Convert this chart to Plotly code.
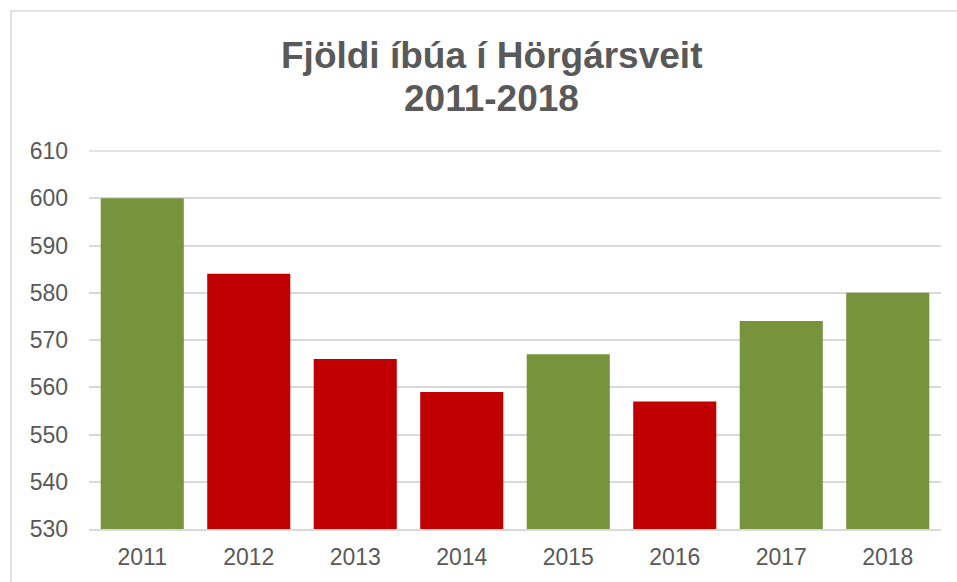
import plotly.graph_objects as go

years = ["2011", "2012", "2013", "2014", "2015", "2016", "2017", "2018"]
residents = [600, 584, 566, 559, 567, 557, 574, 580]
bar_colors = ["#77933C", "#C00000", "#C00000", "#C00000", "#77933C", "#C00000", "#77933C", "#77933C"]
y_ticks = [530, 540, 550, 560, 570, 580, 590, 600, 610]
title_lines = ["Fjöldi íbúa í Hörgársveit", "2011-2018"]

fig = go.Figure(go.Bar(x=years, y=residents, marker_color=bar_colors, marker_line_width=0))

W, H = 957, 582
L, R, T, B = 89, 16, 151, 53
pw, ph = W - L - R, H - T - B

title_ann = [
    dict(text="<b>%s</b>" % t, xref="paper", yref="paper",
         x=(491 - L) / pw, y=((H - B) - yc) / ph, xanchor="center", yanchor="middle",
         showarrow=False, font=dict(size=37, color="#595959", family="Liberation Sans, Arial"))
    for t, yc in zip(title_lines, [56, 98])
]

fig.update_layout(
    width=W, height=H,
    margin=dict(l=L, r=R, t=T, b=B, autoexpand=False),
    paper_bgcolor="white", plot_bgcolor="white",
    bargap=0.22,
    showlegend=False,
    font=dict(family="Liberation Sans, Arial", color="#595959"),
    annotations=title_ann,
    xaxis=dict(
        showgrid=False, showline=True, linecolor="#D9D9D9", linewidth=1.5, automargin=False,
        tickfont=dict(size=23, color="#595959"), ticks="", ticklabelstandoff=7,
    ),
    yaxis=dict(
        range=[y_ticks[0], y_ticks[-1]], tickvals=y_ticks, showgrid=True, gridcolor="#D9D9D9",
        gridwidth=1.5, zeroline=False, showline=False, automargin=False,
        tickfont=dict(size=23, color="#595959"), ticks="", ticklabelstandoff=20,
    ),
    shapes=[
        dict(type="rect", xref="paper", yref="paper",
             x0=(11 - L) / pw, x1=(990 - L) / pw,
             y0=-(620 - (H - B)) / ph, y1=((H - B) - 11) / ph,
             line=dict(color="#D9D9D9", width=1.5), fillcolor="rgba(0,0,0,0)", layer="below"),
        dict(type="line", xref="paper", yref="paper", x0=0, x1=1, y0=1, y1=1,
             line=dict(color="#D9D9D9", width=1.5), layer="below"),
    ],
)

fig.write_html("out.html", config={"displayModeBar": False},
               post_script="document.body.style.margin='0';")
